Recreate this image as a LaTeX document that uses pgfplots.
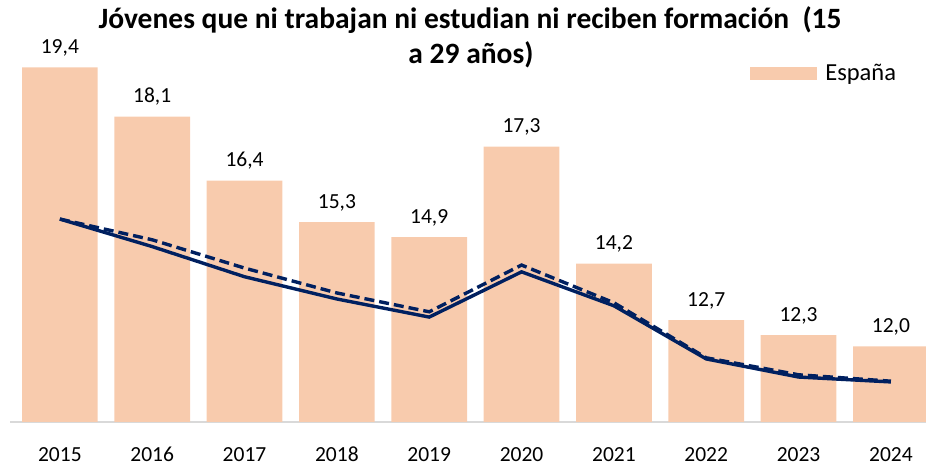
\documentclass[border=0pt]{standalone}
\usepackage{pgfplots}
\pgfplotsset{compat=1.18}
\usepackage{fontspec}
\setmainfont{Carlito}
\definecolor{barc}{HTML}{F8CBAD}
\definecolor{navy}{HTML}{002060}
\definecolor{axgray}{HTML}{D9D9D9}
\begin{document}
\begin{tikzpicture}
\begin{axis}[
  name=ax,
  scale only axis,
  width=916pt, height=421.9pt,
  xmin=-0.54, xmax=9.38,
  ymin=10, ymax=21.19,
  axis x line*=bottom,
  axis y line=none,
  x axis line style={draw=axgray, line width=1.6pt, -},
  xtick={0,...,9},
  xticklabels={2015,2016,2017,2018,2019,2020,2021,2022,2023,2024},
  major tick length=0pt,
  xticklabel style={anchor=base, yshift=-40pt, font=\fontsize{21.5}{24}\selectfont},
  /pgf/number format/assume math mode=true,
  clip=true,
  legend style={at={(rel axis cs:0.808,0.826)}, anchor=west, draw=none, fill=none,
    font=\fontsize{24.5}{28}\selectfont, inner sep=0pt},
  legend cell align=left,
]
\addplot[ybar, bar width=0.82, fill=barc, draw=none,
  nodes near coords={\pgfmathprintnumber[fixed, fixed zerofill, precision=1, use comma]{\pgfplotspointmeta}},
  every node near coord/.append style={anchor=base, yshift=14pt, text=black, font=\fontsize{21.5}{24}\selectfont},
  legend image code/.code={\fill[barc] (0pt,-6.5pt) rectangle (67pt,6.5pt); \path (73pt,0pt);}
] coordinates {
(0,19.4) (1,18.1) (2,16.4) (3,15.3) (4,14.9) (5,17.3) (6,14.2) (7,12.7) (8,12.3) (9,12.0)
};
\addlegendentry{España}
\addplot[forget plot, navy, line width=3.4pt, dash pattern=on 10pt off 5pt] coordinates {
(0,15.38) (1,14.83) (2,14.08) (3,13.42) (4,12.92) (5,14.16) (6,13.16) (7,11.70) (8,11.25) (9,11.08)
};
\addplot[forget plot, navy, line width=3.4pt] coordinates {
(0,15.38) (1,14.65) (2,13.85) (3,13.26) (4,12.78) (5,13.98) (6,13.08) (7,11.67) (8,11.19) (9,11.06)
};
\end{axis}
\node[anchor=base, font=\bfseries\fontsize{29.5}{34}\selectfont, inner sep=0pt]
  at ([shift={(460pt,-29pt)}]ax.north west) {Jóvenes que ni trabajan ni estudian ni reciben formación\ \ (15};
\node[anchor=base, font=\bfseries\fontsize{29.5}{34}\selectfont, inner sep=0pt]
  at ([shift={(461pt,-64pt)}]ax.north west) {a 29 años)};
\pgfresetboundingbox
\path ([shift={(-10pt,-47pt)}]ax.south west) rectangle (ax.north east);
\end{tikzpicture}
\end{document}
